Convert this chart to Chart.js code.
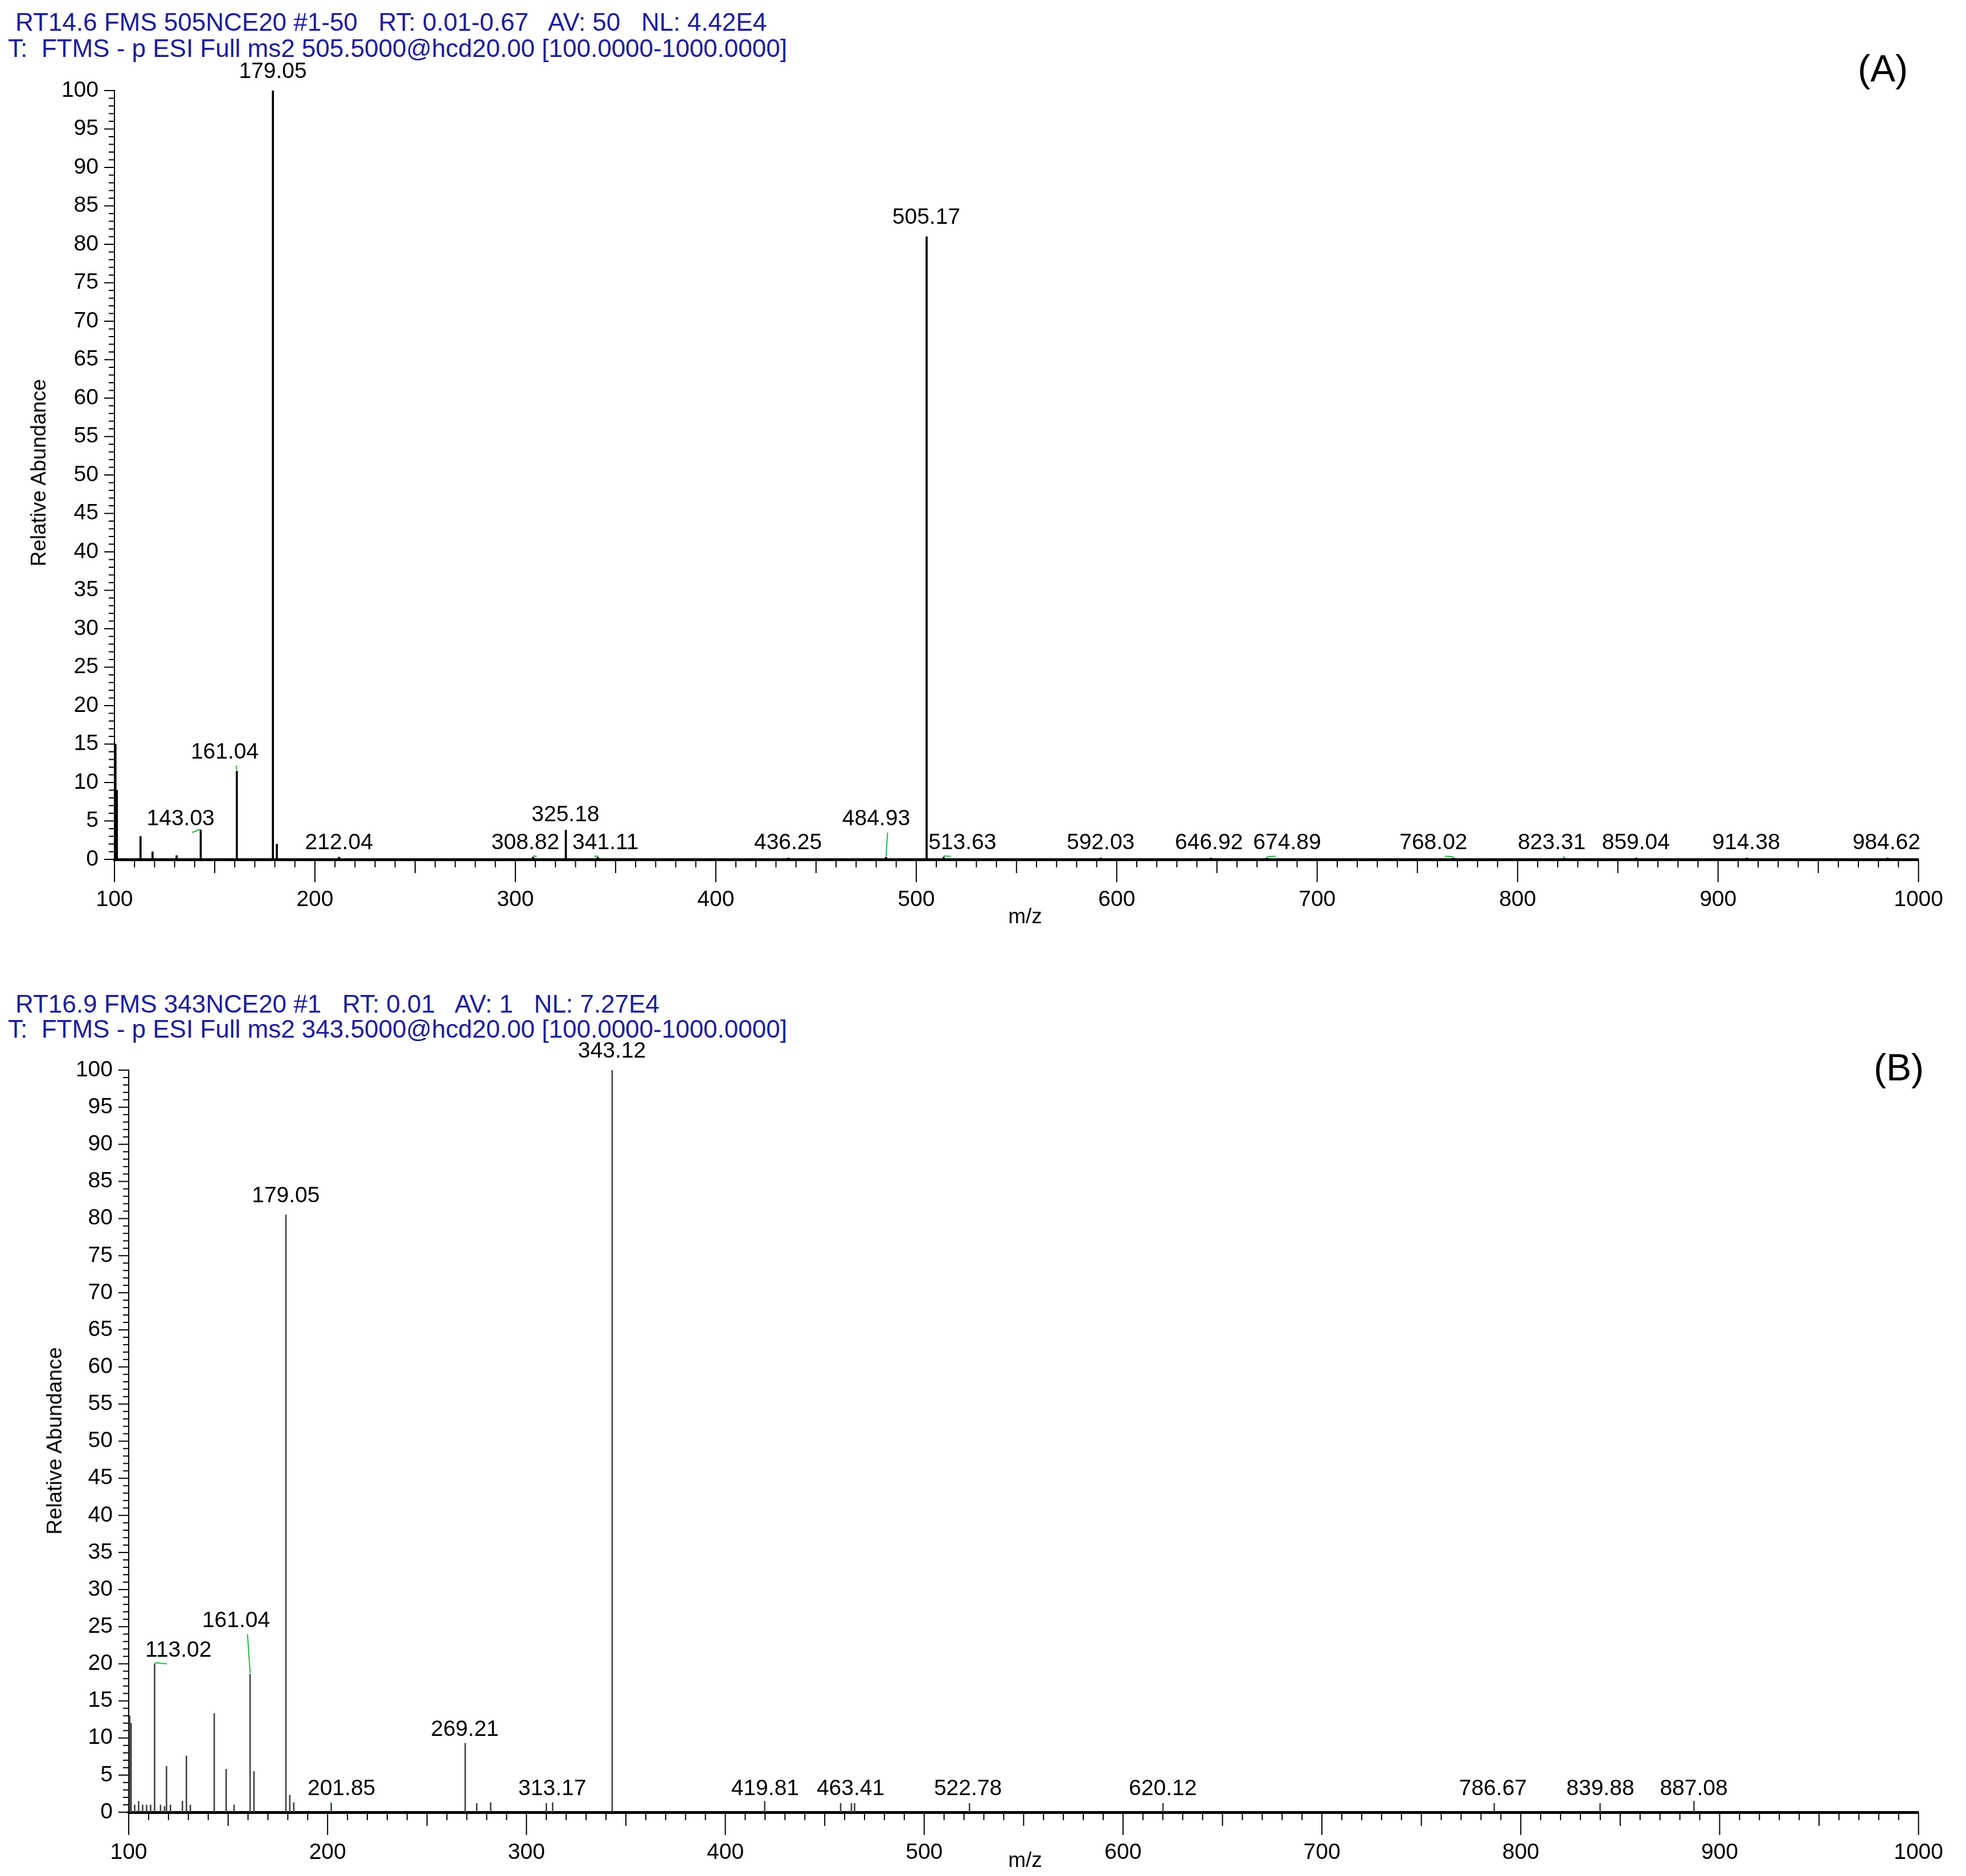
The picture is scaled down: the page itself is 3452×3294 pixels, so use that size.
<!DOCTYPE html>
<html>
<head>
<meta charset="utf-8">
<script src="https://cdn.jsdelivr.net/npm/chart.js@4/dist/chart.umd.min.js"></script>
<style>
  body { margin: 0; background: #fff; font-family: "Liberation Sans", Arial, sans-serif; }
  #page { position: relative; width: 3452px; height: 3294px; }
  .box { position: absolute; left: 0; width: 3452px; }
  .hdr { position: absolute; color: #1c1c9c; font-size: 44px; white-space: pre; }
  .tag { position: absolute; font-family: "Liberation Sans", sans-serif; font-size: 66px; color: #000; }
  .ytitle { position: absolute; font-size: 37px; transform: translate(-50%, -50%) rotate(-90deg); white-space: nowrap; }
  .xtitle { position: absolute; font-size: 37px; transform: translateX(-50%); }
</style>
</head>
<body>
<div id="page">
  <div class="hdr" style="left:27px;top:14px">RT14.6 FMS 505NCE20 #1-50   RT: 0.01-0.67   AV: 50   NL: 4.42E4</div>
  <div class="hdr" style="left:14px;top:60px">T:  FTMS - p ESI Full ms2 505.5000@hcd20.00 [100.0000-1000.0000]</div>
  <div class="tag" style="left:3262px;top:82px">(A)</div>
  <div class="box" style="top:0;height:1660px"><canvas id="chartA"></canvas></div>
  <div class="ytitle" style="left:68px;top:830px">Relative Abundance</div>
  <div class="xtitle" style="left:1800px;top:1588px">m/z</div>

  <div class="hdr" style="left:27px;top:1738px">RT16.9 FMS 343NCE20 #1   RT: 0.01   AV: 1   NL: 7.27E4</div>
  <div class="hdr" style="left:14px;top:1782px">T:  FTMS - p ESI Full ms2 343.5000@hcd20.00 [100.0000-1000.0000]</div>
  <div class="tag" style="left:3290px;top:1836px">(B)</div>
  <div class="box" style="top:1700px;height:1594px"><canvas id="chartB"></canvas></div>
  <div class="ytitle" style="left:96px;top:2530px">Relative Abundance</div>
  <div class="xtitle" style="left:1800px;top:3245px">m/z</div>
</div>
<script>
// Spectrum A peaks
const mzA = [100.5, 101.2, 113.0, 119.0, 131.0, 143.03, 161.04, 179.05, 181.0, 212.04, 308.82, 325.18, 341.11, 436.25, 484.93, 505.17, 513.63, 592.03, 646.92, 674.89, 768.02, 823.31, 859.04, 914.38, 984.62];
const intA = [15, 9, 3, 1, 0.5, 3.8, 11.5, 100, 2, 0.3, 0.3, 3.8, 0.3, 0.2, 0.3, 81, 0.3, 0.2, 0.2, 0.2, 0.2, 0.2, 0.2, 0.2, 0.2];
// labels A: text, label x, label y (baseline), leader target
const labTextA = ['179.05', '505.17', '161.04', '143.03', '325.18', '212.04', '308.82', '341.11', '436.25', '484.93', '513.63', '592.03', '646.92', '674.89', '768.02', '823.31', '859.04', '914.38', '984.62'];
const labXA = [179, 505, 155, 133, 325, 212, 305, 345, 436, 480, 523, 592, 646, 685, 758, 817, 859, 914, 984];
const labYA = [101, 82, 12.5, 3.8, 4.3, 0.7, 0.7, 0.7, 0.7, 3.8, 0.7, 0.7, 0.7, 0.7, 0.7, 0.7, 0.7, 0.7, 0.7];
const leadA = [0, 0, 161.04, 143.03, 0, 0, 308.82, 341.11, 0, 484.93, 513.63, 0, 0, 674.89, 768.02, 823.31, 0, 0, 0];

// Spectrum B peaks
const mzB = [100.5, 101.2, 103, 105, 107, 109, 111, 113.02, 116, 118, 119, 121, 127, 129, 131, 143, 149, 153, 161.04, 163, 179.05, 181, 183, 201.85, 269.21, 275, 282, 310, 313.17, 343.12, 419.81, 458, 463.41, 465, 522.78, 620.12, 786.67, 839.88, 887.08];
const intB = [13, 12, 1, 1.5, 1, 1, 1, 20, 1, 0.8, 6.2, 1, 1.5, 7.6, 1, 13.3, 5.8, 1, 18.6, 5.5, 80.5, 2.3, 1.3, 1.2, 9.3, 1.2, 1.3, 1.2, 1.3, 100, 1.5, 1.2, 1.2, 1.2, 1.2, 1.2, 1.2, 1.2, 1.5];
const labTextB = ['343.12', '179.05', '161.04', '113.02', '269.21', '201.85', '313.17', '419.81', '463.41', '522.78', '620.12', '786.67', '839.88', '887.08'];
const labXB = [343, 179, 154, 125, 269, 207, 313, 420, 463, 522, 620, 786, 840, 887];
const labYB = [101, 81.5, 24.3, 20.3, 9.6, 1.6, 1.6, 1.6, 1.6, 1.6, 1.6, 1.6, 1.6, 1.6];
const leadB = [0, 0, 161.04, 113.02, 0, 201.85, 0, 0, 0, 0, 0, 0, 0, 0];

const FONT = '"Liberation Sans", Arial, sans-serif';

function makeChart(id, mz, inten, labText, labX, labY, lead, opt) {
  const annot = {
    id: 'annot',
    afterDraw(chart) {
      const c = chart.ctx, xs = chart.scales.x, ys = chart.scales.y;
      c.save();
      // minor ticks
      c.strokeStyle = '#000';
      c.lineWidth = 2;
      for (let v = 0; v <= 100; v++) {
        const py = ys.getPixelForValue(v);
        const len = v % 5 === 0 ? 18 : 10;
        c.beginPath(); c.moveTo(xs.left - len, py); c.lineTo(xs.left, py); c.stroke();
      }
      for (let v = 100; v <= 1000; v += 10) {
        const px = xs.getPixelForValue(v);
        const len = v % 100 === 0 ? 40 : (v % 50 === 0 ? 24 : 14);
        c.beginPath(); c.moveTo(px, ys.bottom); c.lineTo(px, ys.bottom + len); c.stroke();
      }
      // peak labels
      c.font = '39px ' + FONT;
      c.fillStyle = '#000';
      c.textAlign = 'center';
      c.textBaseline = 'bottom';
      labText.forEach((t, i) => {
        const px = xs.getPixelForValue(labX[i]);
        const py = ys.getPixelForValue(labY[i]);
        c.fillText(t, px, py);
        if (lead[i]) {
          const k = mz.indexOf(lead[i]);
          const tx = xs.getPixelForValue(lead[i]);
          const ty = ys.getPixelForValue(inten[k]);
          c.strokeStyle = '#22bb44';
          c.lineWidth = 2;
          c.beginPath(); c.moveTo(px + (tx > px ? 20 : -20), py + 4); c.lineTo(tx, ty - 2); c.stroke();
        }
      });
      c.restore();
    }
  };
  return new Chart(document.getElementById(id), {
    type: 'bar',
    data: {
      datasets: [{
        data: mz.map((m, i) => ({ x: m, y: inten[i] })),
        backgroundColor: opt.color,
        barThickness: opt.bar,
        grouped: false
      }]
    },
    options: {
      responsive: true,
      maintainAspectRatio: false,
      animation: false,
      layout: { padding: { left: 0, top: opt.top, right: opt.right, bottom: 0 } },
      plugins: { legend: { display: false }, tooltip: { enabled: false } },
      scales: {
        x: {
          type: 'linear', min: 100, max: 1000, offset: false,
          afterFit: s => { s.height = opt.xh; },
          grid: { display: false },
          border: { display: true, color: '#000', width: 5 },
          ticks: { stepSize: 100, color: '#000', padding: 40, font: { size: 39, family: FONT }, callback: v => String(v) }
        },
        y: {
          min: 0, max: 100,
          afterFit: s => { s.width = opt.yw; },
          grid: { display: false },
          border: { display: true, color: '#000', width: 2 },
          ticks: { stepSize: 5, color: '#000', padding: 20, font: { size: 39, family: FONT } }
        }
      }
    },
    plugins: [annot]
  });
}

makeChart('chartA', mzA, intA, labTextA, labXA, labYA, leadA, { color: '#000', bar: 3, top: 159, right: 82, xh: 151, yw: 201 });
makeChart('chartB', mzB, intB, labTextB, labXB, labYB, leadB, { color: '#444', bar: 2, top: 179, right: 77, xh: 112, yw: 226 });
</script>
</body>
</html>
